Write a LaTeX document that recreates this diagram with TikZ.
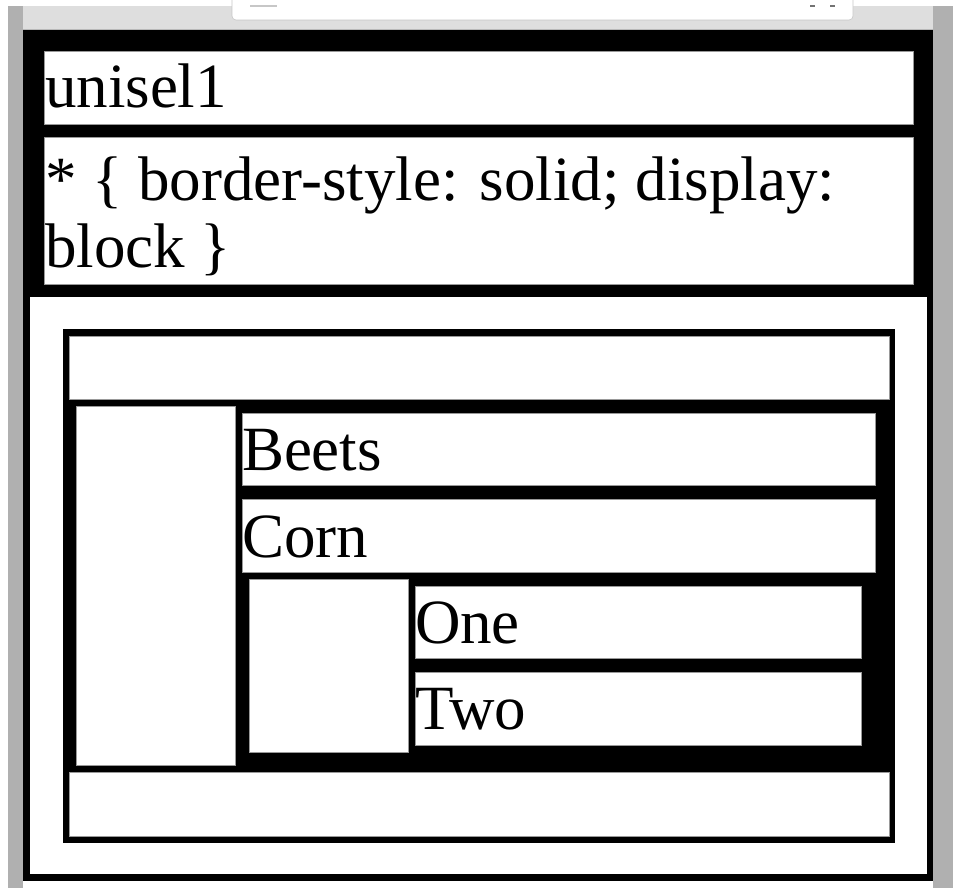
\documentclass[tikz,border=0pt]{standalone}
\usepackage{fontspec}
\setmainfont{Liberation Serif}
\begin{document}
\begin{tikzpicture}[x=1pt,y=-1pt,
  cell/.style={fill=white,draw=black!40,line width=0.5pt},
  lbl/.style={anchor=base west,inner sep=0pt,outer sep=0pt,
              font=\fontsize{63}{67}\selectfont}]
\useasboundingbox (0,0) rectangle (953,888);
\fill[white] (0,0) rectangle (953,888);

% window chrome: side bars, toolbar strip and address field
\fill[black!31] (8,6) rectangle (23,888);
\fill[black!31] (933,6) rectangle (953,888);
\fill[black!13] (23,6) rectangle (933,30);
\draw[black!28,line width=0.6pt] (23,29.6) -- (933,29.6);
\draw[fill=white,draw=black!22,line width=0.6pt,rounded corners=4pt]
  (232,-8) rectangle (853,20);
\fill[black!22] (250,5) rectangle (277,7);
\fill[black!55] (810,5) rectangle (815,7);
\fill[black!55] (830,5) rectangle (835,7);

% page: black header area and bordered body
\fill[black] (23,30) rectangle (933,881);
\fill[white] (30,297) rectangle (927,874);

% header blocks
\path[cell] (44,51) rectangle (913,124);
\path[cell] (44,137) rectangle (913,284);

% select frame with nested option groups
\fill[black] (63,329) rectangle (895,843);
\path[cell] (69,336) rectangle (889,399);
\path[cell] (69,772) rectangle (889,836);
\path[cell] (76,406) rectangle (235,765);
\path[cell] (242,413) rectangle (875,485);
\path[cell] (242,499) rectangle (875,572);
\path[cell] (249,579) rectangle (408,752);
\path[cell] (415,586) rectangle (861,658);
\path[cell] (415,672) rectangle (861,745);

% labels
\node[lbl] (title) at (45,108) {unisel1};
\node[lbl] (rule1) at (45,200) {* \{ border-style: solid; display:};
\node[lbl] (rule2) at (45,267) {block \}};
\node[lbl] (beets) at (242,470) {Beets};
\node[lbl] (corn) at (242,557) {Corn};
\node[lbl] (one) at (415,643) {One};
\node[lbl] (two) at (415,729) {Two};
\end{tikzpicture}
\end{document}
